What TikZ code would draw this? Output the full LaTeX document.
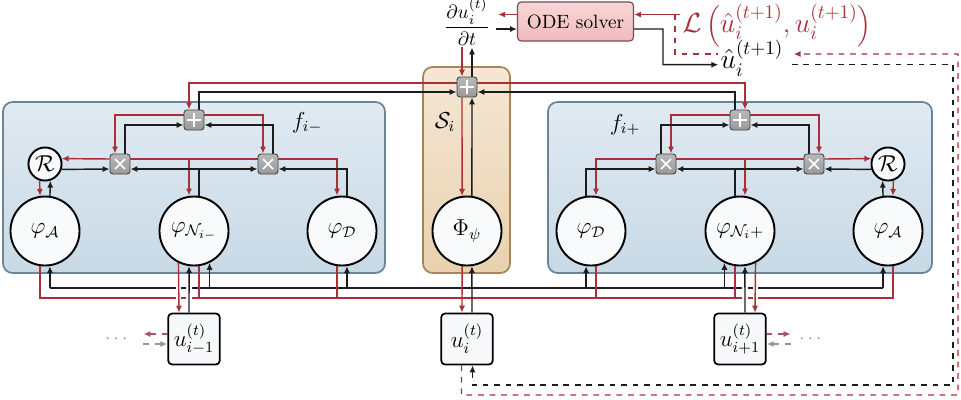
\documentclass[tikz,border=0pt]{standalone}
\usepackage{amsmath}
\usetikzlibrary{arrows.meta,calc}
\definecolor{wred}{RGB}{168,48,56}
\definecolor{wblk}{RGB}{28,28,28}
\definecolor{sred}{RGB}{165,85,95}
\definecolor{sgray}{RGB}{150,150,150}
\definecolor{fbord}{RGB}{108,132,152}
\definecolor{ftop}{RGB}{224,234,242}
\definecolor{fbot}{RGB}{200,217,230}
\definecolor{sbord}{RGB}{168,132,88}
\definecolor{stop}{RGB}{244,231,212}
\definecolor{sbot}{RGB}{233,209,175}
\definecolor{otop}{RGB}{248,214,215}
\definecolor{obot}{RGB}{240,186,188}
\definecolor{obord}{RGB}{115,78,80}
\definecolor{cfill}{RGB}{249,250,252}
\pgfdeclarelayer{bg}\pgfdeclarelayer{wires}\pgfsetlayers{bg,wires,main}
\begin{document}
\begin{tikzpicture}[x=0.52pt,y=-0.52pt,
  >={Latex[length=3.6pt,width=3.2pt]},
  kw/.style={draw=wblk,line width=0.75pt},
  rw/.style={draw=wred,line width=0.75pt},
  halo/.style={draw=white,line width=3pt},
  fregion/.style={draw=fbord,line width=0.9pt,rounded corners=5pt,top color=ftop,bottom color=fbot},
  sregion/.style={draw=sbord,line width=0.9pt,rounded corners=5pt,top color=stop,bottom color=sbot},
  bigc/.style={circle,draw=black,line width=1pt,fill=cfill,minimum size=35.9pt,inner sep=0pt,font=\large},
  smallc/.style={circle,draw=black,line width=1pt,fill=cfill,minimum size=17.2pt,inner sep=0pt,font=\large},
  opbox/.style={rectangle,rounded corners=1.5pt,draw={rgb,255:red,70;green,70;blue,70},line width=0.5pt,top color=gray!55,bottom color=gray!80,minimum size=10.4pt,inner sep=0pt},
  plusop/.style={opbox,path picture={\draw[white,line width=0.9pt]
     ([xshift=-3.4pt]path picture bounding box.center) -- ([xshift=3.4pt]path picture bounding box.center)
     ([yshift=-3.4pt]path picture bounding box.center) -- ([yshift=3.4pt]path picture bounding box.center);}},
  timesop/.style={opbox,path picture={\draw[white,line width=0.9pt]
     ([shift={(-2.6pt,-2.6pt)}]path picture bounding box.center) -- ([shift={(2.6pt,2.6pt)}]path picture bounding box.center)
     ([shift={(-2.6pt,2.6pt)}]path picture bounding box.center) -- ([shift={(2.6pt,-2.6pt)}]path picture bounding box.center);}},
  ubox/.style={rectangle,rounded corners=2pt,draw=black,line width=0.9pt,fill={rgb,255:red,246;green,248;blue,250},minimum width=26.8pt,minimum height=26.5pt,inner sep=0pt,font=\large},
  odebox/.style={rectangle,rounded corners=2pt,draw=obord,line width=0.6pt,top color=otop,bottom color=obot,minimum width=60.3pt,minimum height=20.3pt,inner sep=0pt},
  lbl/.style={font=\large,inner sep=0pt}
]
\useasboundingbox (0,0) rectangle (961,399);

% ---------- regions ----------
\begin{pgfonlayer}{bg}
\path[fregion] (3,102) rectangle (385,273);
\path[fregion] (548,102) rectangle (932,273);
\path[sregion] (423,67) rectangle (510,273);
\end{pgfonlayer}

% ---------- nodes ----------
\node[odebox] (ode) at (575.5,21.5) {ODE solver};
\node[inner sep=1pt] (frac) at (467,22) {$\displaystyle\frac{\partial u_i^{(t)}}{\partial t}$};
\node[text=wred,inner sep=1pt] (loss) at (777,25.5) {{\Large$\mathcal{L}$\,}{\large$\Bigl($}{\Large$\hat{u}_i^{(t+1)},u_i^{(t+1)}$}{\large$\Bigr)$}};
\node[font=\Large,inner sep=1pt] (uhat) at (752,58) {$\hat{u}_i^{(t+1)}$};

\node[plusop] (cp) at (467,87) {};
\node[bigc] (Phi) at (467,231) {$\Phi_\psi$};
\node[lbl] (Slbl) at (445,122) {$\mathcal{S}_i$};

\node[plusop] (lp) at (194,120) {};
\node[timesop] (lx1) at (120,164) {};
\node[timesop] (lx2) at (268,164) {};
\node[smallc] (lR) at (45,164) {$\mathcal{R}$};
\node[bigc] (lA) at (45,231) {$\varphi_{\mathcal{A}}$};
\node[bigc] (lN) at (194,231) {$\varphi_{\mathcal{N}_{i-}}$};
\node[bigc] (lD) at (342,231) {$\varphi_{\mathcal{D}}$};
\node[lbl] (flm) at (307,123) {$f_{i-}$};

\node[plusop] (rp) at (740,120) {};
\node[timesop] (rx1) at (666,164) {};
\node[timesop] (rx2) at (814,164) {};
\node[smallc] (rR) at (888,164) {$\mathcal{R}$};
\node[bigc] (rD) at (591,231) {$\varphi_{\mathcal{D}}$};
\node[bigc] (rN) at (740,231) {$\varphi_{\mathcal{N}_i+}$};
\node[bigc] (rA) at (888,231) {$\varphi_{\mathcal{A}}$};
\node[lbl] (flp) at (625,125) {$f_{i+}$};

\node[ubox] (ub1) at (194,339) {$u^{(t)}_{i-1}$};
\node[ubox] (ui) at (467,339) {$u^{(t)}_{i}$};
\node[ubox] (ub2) at (740,339) {$u^{(t)}_{i+1}$};
\node[text=sgray,inner sep=0pt] (dl) at (118,339) {$\cdots$};
\node[text=sgray,inner sep=0pt] (dr) at (812,339) {$\cdots$};

% ---------- wires ----------
\begin{pgfonlayer}{wires}
% top
\draw[rw,->] ($(ode.west)+(0,-7)$) -- ($(frac.east|-ode.west)+(6,-7)$);
\draw[kw,->] ($(frac.east|-ode.west)+(4,7.5)$) -- ($(ode.west)+(0,7.5)$);
\draw[rw,->] (loss.west|-0,14.5) -- (ode.east|-0,14.5);
\draw[rw,dashed] (675,14.5) -- (675,54) -- (uhat.west|-0,54);
\draw[kw,->] ($(ode.east)+(0,7.5)$) -- (663,29) -- (663,64.7) -- (uhat.west|-0,64.7);
\draw[rw,dashed,->] ($(ui.south)+(-5.5,0)$) -- (461.5,395) -- (958,395) -- (958,54) -- ($(uhat.east|-0,54)+(8,0)$);
\draw[kw,dashed,->] ($(uhat.east|-0,64.7)+(6,0)$) -- (953,64.7) -- (953,385) -- (472.5,385) -- ($(ui.south)+(5.5,0)$);
% center
\draw[rw,->] ($(frac.south)+(-5,0)$) -- ($(cp.north)+(-5,0)$);
\draw[kw,->] ($(cp.north)+(5,0)$) -- ($(frac.south)+(5,0)$);
\draw[rw,->] ($(cp.south)+(-5,0)$) -- (Phi.98);
\draw[kw,->] (Phi.82) -- ($(cp.south)+(5,0)$);
\draw[rw,->] ($(cp.west)+(0,-4)$) -| ($(lp.north)+(-5,0)$);
\draw[rw,->] ($(cp.east)+(0,-4)$) -| ($(rp.north)+(5,0)$);
\draw[kw,->] ($(lp.north)+(5,0)$) |- ($(cp.west)+(0,5)$);
\draw[kw,->] ($(rp.north)+(-5,0)$) |- ($(cp.east)+(0,5)$);
% left module
\draw[rw,->] ($(lp.west)+(0,-5)$) -| ($(lx1.north)+(-5,0)$);
\draw[rw,->] ($(lp.east)+(0,-5)$) -| ($(lx2.north)+(-5,0)$);
\draw[kw,->] ($(lx1.north)+(5,0)$) |- ($(lp.west)+(0,5)$);
\draw[kw,->] ($(lx2.north)+(5,0)$) |- ($(lp.east)+(0,5)$);
\draw[rw,->] ($(lx1.west)+(0,-5)$) -- (lR.18);
\draw[kw,->] (lR.-18) -- ($(lx1.west)+(0,5)$);
\draw[rw] ($(lx1.east)+(0,-5)$) -- ($(lx2.west)+(0,-5)$);
\draw[rw,->] ($(lx1.east)+(0,-5)$) -| ($(lN.north)+(-5,0)$);
\draw[rw,->] ($(lx2.east)+(0,-5)$) -| ($(lD.north)+(-5,0)$);
\draw[kw,->] ($(lN.north)+(5,0)$) |- ($(lx1.east)+(0,5)$);
\draw[kw,->] ($(lN.north)+(5,0)$) |- ($(lx2.west)+(0,5)$);
\draw[kw,->] ($(lD.north)+(5,0)$) |- ($(lx2.east)+(0,5)$);
\draw[rw,->] (lR.-108) -- (lA.98);
\draw[kw,->] (lA.82) -- (lR.-72);
% right module
\draw[rw,->] ($(rp.west)+(0,-5)$) -| ($(rx1.north)+(5,0)$);
\draw[rw,->] ($(rp.east)+(0,-5)$) -| ($(rx2.north)+(5,0)$);
\draw[kw,->] ($(rx1.north)+(-5,0)$) |- ($(rp.west)+(0,5)$);
\draw[kw,->] ($(rx2.north)+(-5,0)$) |- ($(rp.east)+(0,5)$);
\draw[rw,->] ($(rx1.west)+(0,-5)$) -| ($(rD.north)+(5,0)$);
\draw[rw] ($(rx1.east)+(0,-5)$) -- ($(rx2.west)+(0,-5)$);
\draw[rw,->] ($(rx2.west)+(0,-5)$) -| ($(rN.north)+(5,0)$);
\draw[rw,->] ($(rx2.east)+(0,-5)$) -- (rR.162);
\draw[kw,->] ($(rD.north)+(-5,0)$) |- ($(rx1.west)+(0,5)$);
\draw[kw,->] ($(rN.north)+(-5,0)$) |- ($(rx1.east)+(0,5)$);
\draw[kw,->] ($(rN.north)+(-5,0)$) |- ($(rx2.west)+(0,5)$);
\draw[kw,->] (rR.198) -- ($(rx2.east)+(0,5)$);
\draw[kw,->] (rA.98) -- (rR.-108);
\draw[rw,->] (rR.-72) -- (rA.82);
% buses
\draw[kw] (lA.-82|-0,288) -- (rA.-98|-0,288);
\draw[rw] (lA.-98) -- (lA.-98|-0,298) -- (rA.-82|-0,298) -- (rA.-82);
\foreach \n/\a in {lA/-82,lN/-64,lD/-82,rD/-98,rN/-116,rA/-98}
  \draw[kw,->] (\n.\a|-0,288) -- (\n.\a);
\foreach \n/\a in {lN/-82,lD/-98,rD/-82,rN/-98}
  \draw[rw] (\n.\a) -- (\n.\a|-0,298);
\draw[rw,->] (Phi.-98) -- ($(ui.north)+(-5,0)$);
\draw[kw,->] ($(ui.north)+(5,0)$) -- (Phi.-82);
% neighbour links with crossing gaps
\foreach \n/\a in {lN/-116,lN/-98,rN/-82,rN/-64}
  \draw[halo] (\n.\a|-0,283) -- (\n.\a|-0,303);
\draw[rw,->] (lN.-116) -- ($(ub1.north)+(-15,0)$);
\draw[kw,->] ($(ub1.north)+(-5,0)$) -- (lN.-98);
\draw[kw,->] ($(ub2.north)+(5,0)$) -- (rN.-82);
\draw[rw,->] (rN.-64) -- ($(ub2.north)+(15,0)$);
% side dashed arrows
\draw[sred,line width=0.75pt,dashed,->] ($(ub1.west)+(0,-5)$) -- ($(ub1.west)+(-24,-5)$);
\draw[sgray,line width=0.75pt,dashed,->] ($(ub1.west)+(-24,5)$) -- ($(ub1.west)+(0,5)$);
\draw[sred,line width=0.75pt,dashed,->] ($(ub2.east)+(0,-5)$) -- ($(ub2.east)+(24,-5)$);
\draw[sgray,line width=0.75pt,dashed,->] ($(ub2.east)+(24,5)$) -- ($(ub2.east)+(0,5)$);
\end{pgfonlayer}
\end{tikzpicture}
\end{document}
